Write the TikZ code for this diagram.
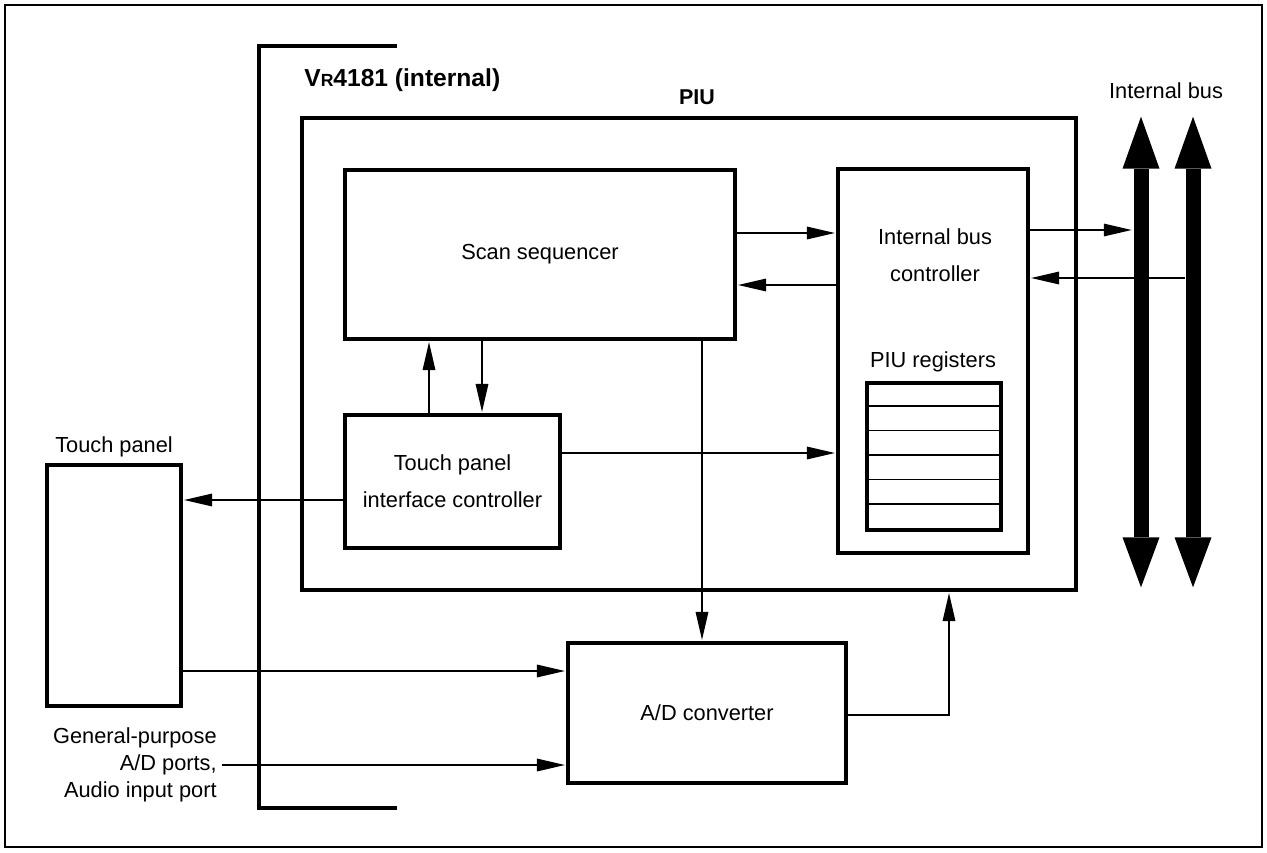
\documentclass[tikz,border=0pt]{standalone}
\usepackage{fontspec}
\setmainfont{Liberation Sans}
\usetikzlibrary{arrows.meta, positioning, calc}

\tikzset{
  blk/.style={draw, line width=1.9pt, inner sep=0pt},
  bar/.style={fill=black, inner sep=0pt, minimum width=0.3cm, minimum height=7.36cm},
  sig/.style={-{Triangle[length=5.6mm, width=2.5mm]}, line width=0.9pt, shorten >=0.8pt},
  lbl/.style={font=\fontsize{12.4}{21}\selectfont, align=center},
  hdr/.style={font=\fontsize{12.2}{15}\selectfont\bfseries},
}

\begin{document}
\begin{tikzpicture}[x=0.02cm, y=-0.02cm, line join=miter]

\useasboundingbox (0,0) rectangle (1267,852);
\draw[line width=1.4pt] (5,5) rectangle (1262,847);

% === VR4181 bracket ===
\draw[line width=1.9pt] (397,46) -- (259,46) -- (259,808) -- (397,808);
\node[font=\fontsize{14}{16}\selectfont\bfseries, anchor=west, inner sep=0pt]
      (vr) at (304,80) {V{\fontsize{10}{10}\selectfont R}4181 (internal)};

% === PIU ===
\node[blk, minimum width=15.48cm, minimum height=9.44cm] (piu) at (689,354) {};
\node[hdr] (piulbl) at (697,97) {PIU};

% Scan sequencer
\node[blk, lbl, minimum width=7.8cm, minimum height=3.38cm] (scan) at (540,254.5) {Scan sequencer};

% Internal bus controller
\node[blk, minimum width=3.8cm, minimum height=7.68cm] (ibc) at (933,361) {};
\node[lbl] (ibclbl) at (935,255.5) {Internal bus\\controller};

% PIU registers
\node[lbl] (regslbl) at (933,362) {PIU registers};
\node[blk, minimum width=2.68cm, minimum height=2.94cm] (regs) at (934,456.5) {};
\foreach \k in {1,...,5} {
    \draw[line width=0.85pt] ($(regs.north west)+(0,24.5*\k)$) -- ($(regs.north east)+(0,24.5*\k)$);
}

% Touch panel interface controller
\node[blk, lbl, minimum width=4.3cm, minimum height=2.66cm] (tpic) at (452.5,481.5)
     {Touch panel\\interface controller};

% === Outside ===
\node[blk, minimum width=2.68cm, minimum height=4.82cm] (touch) at (114,585.5) {};
\node[lbl] (touchlbl) at (114,447) {Touch panel};

\node[blk, lbl, minimum width=5.56cm, minimum height=2.8cm] (adc) at (707,713) {A/D converter};

\node[lbl, font=\fontsize{12.4}{15.3}\selectfont, align=right, anchor=east, inner sep=0pt]
      (gp) at (217,765) {General-purpose\\A/D ports,\\Audio input port};

% === Internal bus ===
\node[lbl] (buslbl) at (1166,91) {Internal bus};
\node[bar] (busa) at (1141,353) {};
\node[bar] (busb) at (1193,353) {};
\foreach \b in {busa,busb} {
    \fill ($(\b.north)+(-18.5,0)$) -- ($(\b.north)+(18.5,0)$) -- ($(\b.north)+(0,-52)$) -- cycle;
    \fill ($(\b.south)+(-18.5,0)$) -- ($(\b.south)+(18.5,0)$) -- ($(\b.south)+(0,50)$) -- cycle;
}

% Rows and columns of the connectors
\coordinate (ya) at (0,233);
\coordinate (yb) at (0,285);
\coordinate (yc) at (0,230);
\coordinate (yd) at (0,278);
\coordinate (ye) at (0,453);
\coordinate (yf) at (0,500);
\coordinate (yg) at (0,671);
\coordinate (yh) at (0,715);
\coordinate (xa) at (429,0);
\coordinate (xb) at (482,0);
\coordinate (xc) at (702,0);
\coordinate (xd) at (949,0);

% === Connectors ===
\draw[sig] (scan.east |- ya) -- (ibc.west |- ya);
\draw[sig] (ibc.west |- yb) -- (scan.east |- yb);
\draw[sig] (ibc.east |- yc) -- (busa.west |- yc);
\draw[sig] (busb.west |- yd) -- (ibc.east |- yd);
\draw[sig] (tpic.north -| xa) -- (scan.south -| xa);
\draw[sig] (scan.south -| xb) -- (tpic.north -| xb);
\draw[sig] (tpic.east |- ye) -- (ibc.west |- ye);
\draw[sig] (tpic.west |- yf) -- (touch.east |- yf);
\draw[sig] (scan.south -| xc) -- (adc.north -| xc);
\draw[sig] (touch.east |- yg) -- (adc.west |- yg);
\draw[sig] (gp.east) ++(5,0) -- (adc.west |- gp.east);
\draw[sig] (adc.east |- yh) -| (piu.south -| xd);

\end{tikzpicture}
\end{document}
